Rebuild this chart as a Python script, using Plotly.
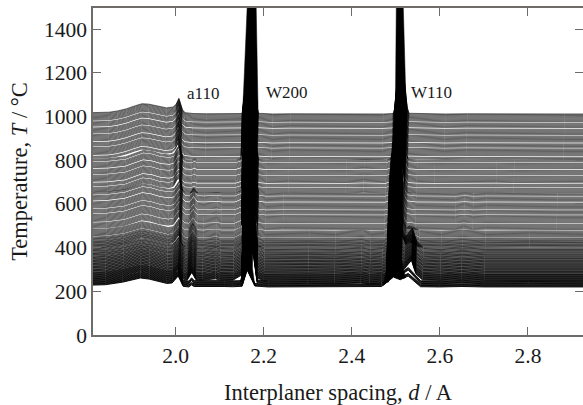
import plotly.graph_objects as go

# Measurement temperatures of the stacked scans (deg C)
TEMPS = [220,223,226,229,232,235,238,241,244,247,250,253,256,259,262,265,268,271,274,277,
 280,284,287,291,294,298,301,305,308,312,315,319,322,326,329,333,336,340,343,347,350,354,358,361,365,368,372,
 376,379,383,387,391,394,398,402,406,409,413,416,420,423,427,431,434,438,442,448,452,456,460,464,468,472,476,483,487,
 491,495,499,503,507,514,518,522,526,530,534,538,542,546,553,557,561,565,569,576,580,584,588,592,596,600,604,612,616,620,
 624,628,632,639,643,647,651,655,659,663,667,671,678,682,686,690,698,702,706,710,714,718,722,726,733,737,741,745,749,753,
 761,765,769,773,777,781,785,792,796,800,804,808,812,820,824,828,832,836,840,844,848,852,859,863,867,871,875,883,887,891,
 895,899,903,907,911,918,922,926,930,934,938,942,950,954,958,962,966,970,977,981,985,989,993,997,1001,1005,1009,1012]

BLOCK_TOPS = [232, 248, 400, 480, 650, 800, 1015]

# Each block: d (A) and intensity offset (deg C equivalent)
D_A = [1.80,1.84,1.88,1.90,1.92,1.94,1.96,1.98,1.992,2.000,2.006,2.012,2.017,2.03,2.036,2.042,2.06,2.09,2.11,2.13,2.151,2.1625,2.18,2.21,2.30,2.36,2.42,2.44,2.4675,2.4945,2.51,2.528,2.556,2.60,2.65,2.70,2.80,2.95]
O_A = [8,10,22,33,41,36,25,16,18,38,50,25,3,0,9,2,2,5,2,1,3,78,4,0,1,0,2,0,2,45,33,50,1,0,2,0,1,0]

D_A2 = [1.80,1.84,1.88,1.90,1.92,1.94,1.96,1.98,1.992,2.000,2.006,2.012,2.017,2.03,2.036,2.042,2.06,2.09,2.11,2.13,2.148,2.1535,2.16,2.17,2.178,2.185,2.21,2.30,2.36,2.42,2.44,2.4675,2.483,2.492,2.503,2.512,2.528,2.556,2.60,2.65,2.70,2.80,2.95]
O_A2 = [8,10,22,33,41,36,25,16,18,38,50,25,3,0,15,2,2,5,2,1,2,60,180,190,110,4,0,1,0,3,0,2,8,120,60,40,62,1,0,3,0,1,0]

D_B = [1.80,1.84,1.88,1.90,1.92,1.94,1.96,1.98,1.992,2.000,2.005,2.011,2.017,2.026,2.032,2.036,2.040,2.046,2.06,2.08,2.09,2.10,2.13,2.150,2.1534,2.160,2.172,2.176,2.179,2.184,2.20,2.30,2.36,2.42,2.44,2.4675,2.478,2.483,2.49,2.50,2.508,2.512,2.518,2.526,2.535,2.545,2.56,2.60,2.648,2.70,2.80,2.95]
O_B = [7,10,22,33,42,36,25,16,18,38,50,25,6,1,24,36,24,2,1,3,7,2,1,25,200,260,260,170,90,10,0,1,0,3,0,2,6,90,200,200,100,60,50,70,92,30,2,0,4,0,1,0]

D_C = [1.80,1.84,1.88,1.90,1.92,1.94,1.96,1.98,1.992,2.000,2.005,2.011,2.017,2.026,2.032,2.036,2.040,2.046,2.06,2.08,2.09,2.10,2.13,2.149,2.152,2.16,2.172,2.176,2.179,2.184,2.20,2.30,2.36,2.42,2.44,2.47,2.478,2.483,2.49,2.50,2.508,2.512,2.52,2.527,2.535,2.55,2.60,2.648,2.70,2.80,2.95]
O_C = [6,9,20,32,43,36,25,16,20,40,55,18,4,1,22,34,22,2,1,2,5,1,1,20,200,260,260,90,30,5,0,1,0,3,0,1,5,80,200,200,120,50,12,24,18,2,0,3,0,1,0]

D_D = [1.80,1.84,1.88,1.90,1.92,1.94,1.96,1.98,1.992,2.000,2.005,2.011,2.018,2.027,2.032,2.036,2.040,2.046,2.06,2.08,2.09,2.10,2.13,2.146,2.150,2.16,2.172,2.175,2.178,2.183,2.20,2.24,2.30,2.33,2.36,2.39,2.42,2.45,2.47,2.478,2.483,2.49,2.50,2.507,2.510,2.514,2.52,2.54,2.57,2.60,2.63,2.65,2.67,2.70,2.74,2.80,2.86,2.95]
O_D = [5,8,18,30,44,38,26,20,24,48,62,16,3,1,14,26,14,2,1,2,4,1,1,15,200,260,260,130,60,4,0,1,1,0,1,0,3,1,0,4,60,200,200,120,60,30,6,1,0,1,0,2,0,1,0,1,0,0]

D_E = [1.80,1.84,1.88,1.90,1.92,1.94,1.96,1.98,1.99,1.998,2.003,2.009,2.016,2.03,2.036,2.042,2.06,2.09,2.10,2.13,2.144,2.148,2.153,2.16,2.170,2.173,2.176,2.181,2.20,2.25,2.30,2.34,2.38,2.42,2.45,2.47,2.48,2.484,2.49,2.50,2.507,2.510,2.514,2.52,2.54,2.58,2.62,2.65,2.68,2.72,2.76,2.80,2.87,2.95]
O_E = [5,7,16,30,45,40,28,24,30,60,66,14,3,1,6,1,1,3,1,1,10,100,200,260,260,200,60,4,0,1,0,1,0,2,0,0,8,40,200,200,160,100,30,4,1,0,1,2,0,1,0,1,0,1]

D_F = [1.80,1.82,1.84,1.86,1.88,1.90,1.915,1.93,1.95,1.97,1.985,1.992,1.998,2.002,2.006,2.012,2.03,2.06,2.10,2.141,2.143,2.147,2.1525,2.16,2.168,2.1705,2.175,2.178,2.21,2.25,2.30,2.35,2.42,2.46,2.482,2.485,2.489,2.493,2.505,2.510,2.514,2.518,2.56,2.60,2.65,2.70,2.75,2.80,2.87,2.95]
O_F = [6,6,8,14,24,38,47,45,36,28,32,45,72,50,20,6,2,1,1,2,40,120,200,260,260,180,30,3,0,1,0,1,1,0,2,20,100,200,200,120,30,3,1,0,1,0,1,1,0,0]

BLOCKS = [(D_A, O_A), (D_A2, O_A2), (D_B, O_B), (D_C, O_C), (D_D, O_D), (D_E, O_E), (D_F, O_F)]
EXPANSION = 6e-6   # lattice expansion per deg C, relative to the lowest scan

# Saturated W peaks: outline of the solid black bands (d, T)
W200_D = [2.149,2.1534,2.152,2.1625,2.183,2.1875,2.1784,2.1761,2.1745,2.180,2.1625]
W200_T = [226,620,1000,1500,1500,1000,620,430,307,226,298]
W110_D = [2.472,2.4784,2.4852,2.4989,2.5011,2.5170,2.5239,2.5148,2.5057,2.512,2.522,2.51,2.4945]
W110_T = [226,300,720,1000,1500,1500,1000,720,480,350,262,256,268]

X_TICKS = [2.0, 2.2, 2.4, 2.6, 2.8]
Y_TICKS = [0, 200, 400, 600, 800, 1000, 1200, 1400]
LABELS = [("a110", 2.0625, 1107), ("W200", 2.2534, 1112), ("W110", 2.581, 1112)]

AXIS = "#6f6b68"
SERIF = "Liberation Serif"

fig = go.Figure()
for T in TEMPS:
    idx = next(i for i, top in enumerate(BLOCK_TOPS) if T <= top)
    ds, offs = BLOCKS[idx]
    xs = [d * (1 + EXPANSION * (T - 220)) for d in ds]
    ys = [T + o for o in offs]
    alpha = max(0.56, 0.95 - 0.0015 * (T - 220))
    fig.add_trace(go.Scatter(x=xs, y=ys, mode="lines", showlegend=False, hoverinfo="skip",
                             line=dict(color=f"rgba(0,0,0,{alpha:.2f})", width=1.0)))

for bx, by in ((W200_D, W200_T), (W110_D, W110_T)):
    fig.add_trace(go.Scatter(x=bx, y=by, mode="lines", fill="toself", fillcolor="#000000",
                             line=dict(color="#000000", width=0.5), showlegend=False, hoverinfo="skip"))

fig.add_trace(go.Scatter(x=[2.5], y=[0], yaxis="y2", mode="markers", marker=dict(opacity=0),
                         showlegend=False, hoverinfo="skip"))

for text, x, y in LABELS:
    fig.add_annotation(x=x, y=y, text=text, showarrow=False,
                       font=dict(family=SERIF, size=17, color="#1a1a1a"))

fig.update_layout(
    width=583, height=405, margin=dict(l=93, r=0, t=8, b=70),
    paper_bgcolor="white", plot_bgcolor="white",
    font=dict(family=SERIF, color="#1a1a1a"),
    xaxis=dict(range=[1.8125, 2.925], tickvals=X_TICKS, ticktext=[f"{v:.1f}" for v in X_TICKS],
               ticks="inside", ticklen=8, tickwidth=1, tickcolor=AXIS, showgrid=False, zeroline=False,
               showline=True, linecolor=AXIS, linewidth=1.5, mirror="ticks",
               tickfont=dict(family=SERIF, size=21.5),
               title=dict(text="Interplaner spacing, <i>d</i> / A", standoff=20,
                          font=dict(family=SERIF, size=22.5))),
    yaxis=dict(range=[0, 1497], tickvals=Y_TICKS, ticks="inside", ticklen=8, tickwidth=1,
               tickcolor=AXIS, showgrid=False, zeroline=False, showline=True, linecolor=AXIS,
               linewidth=1.5, tickfont=dict(family=SERIF, size=21.5),
               title=dict(text="Temperature, <i>T</i> / °C", standoff=10,
                          font=dict(family=SERIF, size=22.5))),
    yaxis2=dict(range=[0, 1497], overlaying="y", side="right", tickvals=Y_TICKS, showticklabels=False,
                ticks="inside", ticklen=8, tickwidth=1, tickcolor=AXIS, showgrid=False,
                zeroline=False, showline=False),
)
fig.write_html("out.html", config={"displayModeBar": False},
               post_script="document.body.style.margin='0';document.body.style.overflow='hidden';")
